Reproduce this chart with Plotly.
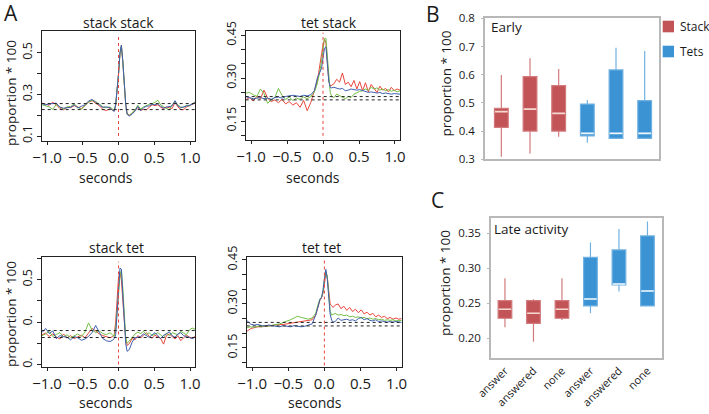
import plotly.graph_objects as go

W, H = 709, 414

# ---------------- data: panel A (time courses) ----------------
T = [-1.07, -1.02, -0.97, -0.92, -0.87, -0.82, -0.77, -0.72, -0.67, -0.62,
     -0.57, -0.52, -0.47, -0.42, -0.37, -0.32, -0.27, -0.22, -0.17, -0.12,
     -0.08, -0.06, -0.04, -0.02, 0.0, 0.02, 0.04, 0.06, 0.08, 0.10,
     0.12, 0.15, 0.19, 0.23, 0.27, 0.31, 0.35, 0.39, 0.43, 0.47,
     0.51, 0.55, 0.59, 0.63, 0.67, 0.71, 0.75, 0.79, 0.83, 0.87,
     0.91, 0.95, 0.99, 1.03, 1.07]

# stack stack
ss_red = [0.258, 0.252, 0.248, 0.262, 0.250, 0.232, 0.226, 0.238, 0.236, 0.246,
          0.240, 0.232, 0.246, 0.262, 0.270, 0.258, 0.246, 0.228, 0.222, 0.232,
          0.226, 0.220, 0.246, 0.305, 0.395, 0.495, 0.532, 0.455, 0.345, 0.255,
          0.208, 0.200, 0.210, 0.224, 0.236, 0.224, 0.228, 0.226, 0.240, 0.250,
          0.246, 0.250, 0.238, 0.232, 0.240, 0.236, 0.232, 0.262, 0.240, 0.228,
          0.226, 0.240, 0.246, 0.250, 0.258]
ss_green = [0.250, 0.246, 0.240, 0.228, 0.252, 0.240, 0.230, 0.240, 0.242, 0.254,
            0.238, 0.228, 0.244, 0.264, 0.272, 0.266, 0.254, 0.240, 0.236, 0.240,
            0.228, 0.224, 0.252, 0.312, 0.398, 0.498, 0.534, 0.458, 0.342, 0.252,
            0.204, 0.198, 0.212, 0.226, 0.248, 0.230, 0.240, 0.248, 0.252, 0.256,
            0.262, 0.272, 0.250, 0.240, 0.232, 0.226, 0.250, 0.266, 0.250, 0.240,
            0.236, 0.248, 0.244, 0.256, 0.264]
ss_blue = [0.256, 0.250, 0.254, 0.256, 0.258, 0.238, 0.234, 0.236, 0.238, 0.250,
           0.235, 0.243, 0.250, 0.268, 0.276, 0.262, 0.250, 0.238, 0.240, 0.236,
           0.222, 0.219, 0.250, 0.310, 0.400, 0.500, 0.537, 0.460, 0.350, 0.255,
           0.205, 0.196, 0.205, 0.220, 0.243, 0.222, 0.236, 0.243, 0.245, 0.252,
           0.250, 0.256, 0.242, 0.236, 0.238, 0.243, 0.245, 0.270, 0.245, 0.236,
           0.240, 0.244, 0.250, 0.252, 0.262]

# tet stack
ts_red = [0.225, 0.232, 0.220, 0.236, 0.228, 0.258, 0.230, 0.218, 0.224, 0.214,
          0.226, 0.210, 0.218, 0.206, 0.214, 0.198, 0.222, 0.186, 0.215, 0.255,
          0.290, 0.320, 0.360, 0.385, 0.415, 0.436, 0.425, 0.345, 0.290, 0.272,
          0.276, 0.280, 0.296, 0.286, 0.318, 0.278, 0.286, 0.270, 0.292, 0.262,
          0.288, 0.256, 0.284, 0.252, 0.278, 0.266, 0.250, 0.272, 0.258, 0.264,
          0.252, 0.268, 0.256, 0.262, 0.258]
ts_green = [0.248, 0.250, 0.242, 0.236, 0.262, 0.246, 0.212, 0.224, 0.232, 0.264,
            0.240, 0.226, 0.234, 0.222, 0.230, 0.226, 0.234, 0.228, 0.236, 0.252,
            0.280, 0.300, 0.330, 0.360, 0.400, 0.438, 0.440, 0.380, 0.290, 0.250,
            0.236, 0.232, 0.244, 0.238, 0.234, 0.228, 0.236, 0.232, 0.244, 0.250,
            0.254, 0.256, 0.262, 0.258, 0.268, 0.262, 0.266, 0.258, 0.262, 0.256,
            0.260, 0.254, 0.258, 0.252, 0.256]
ts_blue = [0.235, 0.232, 0.228, 0.230, 0.232, 0.228, 0.230, 0.226, 0.232, 0.234,
           0.230, 0.236, 0.238, 0.240, 0.238, 0.236, 0.240, 0.238, 0.242, 0.256,
           0.300, 0.312, 0.318, 0.335, 0.370, 0.405, 0.410, 0.360, 0.290, 0.268,
           0.266, 0.268, 0.266, 0.262, 0.264, 0.256, 0.258, 0.262, 0.260, 0.258,
           0.260, 0.256, 0.252, 0.250, 0.252, 0.250, 0.248, 0.250, 0.246, 0.248,
           0.246, 0.244, 0.246, 0.244, 0.244]

# stack tet
st_red = [0.240, 0.248, 0.232, 0.244, 0.230, 0.220, 0.244, 0.226, 0.236, 0.222,
          0.230, 0.238, 0.226, 0.248, 0.270, 0.258, 0.244, 0.236, 0.232, 0.226,
          0.232, 0.240, 0.300, 0.420, 0.510, 0.535, 0.500, 0.400, 0.300, 0.220,
          0.190, 0.198, 0.222, 0.216, 0.236, 0.226, 0.238, 0.250, 0.232, 0.224,
          0.238, 0.228, 0.222, 0.196, 0.236, 0.244, 0.230, 0.220, 0.236, 0.212,
          0.226, 0.238, 0.230, 0.224, 0.232]
st_green = [0.236, 0.244, 0.256, 0.232, 0.242, 0.250, 0.230, 0.240, 0.226, 0.236,
            0.244, 0.232, 0.252, 0.296, 0.262, 0.250, 0.258, 0.246, 0.240, 0.250,
            0.238, 0.232, 0.262, 0.330, 0.430, 0.520, 0.545, 0.460, 0.330, 0.230,
            0.200, 0.210, 0.226, 0.244, 0.252, 0.246, 0.256, 0.242, 0.250, 0.236,
            0.244, 0.250, 0.240, 0.226, 0.248, 0.236, 0.250, 0.244, 0.240, 0.256,
            0.246, 0.240, 0.262, 0.272, 0.266]
st_blue = [0.251, 0.270, 0.246, 0.258, 0.222, 0.236, 0.232, 0.228, 0.216, 0.232,
           0.226, 0.214, 0.220, 0.232, 0.250, 0.284, 0.252, 0.222, 0.212, 0.208,
           0.215, 0.222, 0.240, 0.330, 0.460, 0.555, 0.550, 0.420, 0.310, 0.200,
           0.162, 0.170, 0.205, 0.226, 0.228, 0.232, 0.244, 0.236, 0.228, 0.240,
           0.250, 0.236, 0.222, 0.238, 0.244, 0.254, 0.236, 0.228, 0.244, 0.250,
           0.236, 0.232, 0.226, 0.222, 0.228]

# tet tet
tt_red = [0.207, 0.216, 0.219, 0.222, 0.222, 0.224, 0.226, 0.226, 0.228, 0.230,
          0.230, 0.232, 0.234, 0.236, 0.238, 0.240, 0.240, 0.242, 0.246, 0.262,
          0.300, 0.314, 0.320, 0.336, 0.366, 0.405, 0.390, 0.330, 0.300, 0.294,
          0.288, 0.296, 0.300, 0.284, 0.292, 0.278, 0.288, 0.274, 0.282, 0.270,
          0.280, 0.266, 0.272, 0.262, 0.268, 0.256, 0.262, 0.254, 0.258, 0.250,
          0.254, 0.248, 0.252, 0.248, 0.250]
tt_green = [0.219, 0.222, 0.220, 0.224, 0.222, 0.226, 0.224, 0.228, 0.230, 0.232,
            0.236, 0.240, 0.246, 0.252, 0.258, 0.254, 0.250, 0.248, 0.252, 0.268,
            0.305, 0.318, 0.322, 0.340, 0.380, 0.412, 0.395, 0.330, 0.275, 0.262,
            0.264, 0.268, 0.262, 0.264, 0.260, 0.262, 0.256, 0.258, 0.254, 0.256,
            0.252, 0.254, 0.250, 0.252, 0.248, 0.250, 0.246, 0.248, 0.244, 0.246,
            0.244, 0.246, 0.242, 0.244, 0.243]
tt_blue = [0.243, 0.231, 0.228, 0.230, 0.226, 0.225, 0.228, 0.226, 0.224, 0.222,
           0.226, 0.224, 0.222, 0.226, 0.224, 0.222, 0.224, 0.228, 0.232, 0.262,
           0.305, 0.316, 0.322, 0.345, 0.385, 0.418, 0.385, 0.315, 0.265, 0.245,
           0.238, 0.240, 0.252, 0.244, 0.246, 0.248, 0.244, 0.246, 0.242, 0.250,
           0.254, 0.246, 0.250, 0.244, 0.242, 0.246, 0.240, 0.242, 0.240, 0.238,
           0.240, 0.238, 0.240, 0.238, 0.237]

PANEL_TITLES = ["stack stack", "tet stack", "stack tet", "tet tet"]
SERIES = [(ss_red, ss_green, ss_blue), (ts_red, ts_green, ts_blue),
          (st_red, st_green, st_blue), (tt_red, tt_green, tt_blue)]
BASELINES = [(0.256, 0.227), (0.2355, 0.224), (0.260, 0.227), (0.237, 0.225)]
VLINE_LO = [0.10, 0.098, 0.10, 0.09]
VLINE_HI = [0.58, 0.459, 0.585, 0.45]
X_TICKS = [-1.0, -0.5, 0.0, 0.5, 1.0]
X_TICKTEXT = ["\u22121.0", "\u22120.5", "0.0", "0.5", "1.0"]
Y_TICKS = [[0.1, 0.2, 0.3, 0.4, 0.5],
           [0.10, 0.15, 0.20, 0.25, 0.30, 0.35, 0.40, 0.45],
           [0.1, 0.2, 0.3, 0.4, 0.5, 0.6],
           [0.10, 0.15, 0.20, 0.25, 0.30, 0.35, 0.40, 0.45]]
Y_TICKTEXT = [["0.1", "", "0.3", "", "0.5"],
              ["", "0.15", "", "", "0.30", "", "", "0.45"],
              ["0.", "", "0.", "", "0.5", ""],
              ["", "0.15", "", "", "0.30", "", "", "0.45"]]
Y_RANGES = [[0.076, 0.605], [0.0836, 0.465], [0.088, 0.607], [0.085, 0.46]]
X_RANGE = [-1.075, 1.07]

# ---------------- data: panels B and C (box plots) ----------------
GROUPS = ["Stack", "Stack", "Stack", "Tets", "Tets", "Tets"]
C_LABELS = ["answer", "answered", "none", "answer", "answered", "none"]

early_q1 = [0.413, 0.400, 0.400, 0.383, 0.374, 0.374]
early_med = [0.469, 0.478, 0.463, 0.392, 0.392, 0.392]
early_q3 = [0.481, 0.593, 0.561, 0.496, 0.617, 0.508]
early_lo = [0.309, 0.321, 0.380, 0.359, 0.374, 0.374]
early_hi = [0.599, 0.658, 0.620, 0.510, 0.696, 0.684]

late_q1 = [0.2286, 0.2214, 0.2286, 0.2462, 0.2762, 0.2462]
late_med = [0.2414, 0.2357, 0.2414, 0.2562, 0.2776, 0.2676]
late_q3 = [0.2538, 0.2538, 0.2538, 0.3157, 0.3262, 0.3462]
late_lo = [0.2157, 0.1952, 0.2262, 0.2357, 0.2667, 0.2462]
late_hi = [0.2857, 0.2557, 0.2857, 0.3367, 0.3562, 0.3667]

# ---------------- styling ----------------
FONT = "Open Sans"
LINE_COLORS = ["#e8463c", "#74bf45", "#3f5fae"]
FILL = {"Stack": "#c25356", "Tets": "#3b93d4"}
WHISK = {"Stack": "#d27a7c", "Tets": "#71b2e2"}
MEDC = {"Stack": "#f4d8cf", "Tets": "#eef6fc"}


def dom_x(a, b):
    return [a / W, b / W]


def dom_y(top, bottom):
    return [1 - bottom / H, 1 - top / H]


A_DOMX = [dom_x(41.7, 195), dom_x(245.7, 400), dom_x(41.7, 195), dom_x(246.7, 401.7)]
A_DOMY = [dom_y(31, 141), dom_y(31, 140), dom_y(257, 367), dom_y(257, 367)]

fig = go.Figure()
layout = dict(width=W, height=H, margin=dict(l=0, r=0, t=0, b=0, autoexpand=False),
              autosize=False, paper_bgcolor="white", plot_bgcolor="white", showlegend=False,
              font=dict(family=FONT, color="#1a1a1a"))
annotations = []
shapes = []

for i in range(4):
    n = i + 1
    xa = "x" if n == 1 else f"x{n}"
    ya = "y" if n == 1 else f"y{n}"
    for s, col in zip(SERIES[i], LINE_COLORS):
        fig.add_trace(go.Scatter(x=T, y=s, mode="lines", line=dict(color=col, width=1),
                                 xaxis=xa, yaxis=ya, hoverinfo="skip"))
    for b in BASELINES[i]:
        fig.add_trace(go.Scatter(x=X_RANGE, y=[b, b], mode="lines",
                                 line=dict(color="#222", width=1, dash="dot"),
                                 xaxis=xa, yaxis=ya, hoverinfo="skip"))
    fig.add_trace(go.Scatter(x=[0, 0], y=[VLINE_LO[i], VLINE_HI[i]], mode="lines",
                             line=dict(color="#e8463c", width=1, dash="dot"),
                             xaxis=xa, yaxis=ya, hoverinfo="skip"))
    layout[f"xaxis{'' if n == 1 else n}"] = dict(
        domain=A_DOMX[i], anchor=ya, range=X_RANGE, tickvals=X_TICKS, ticktext=X_TICKTEXT,
        tickangle=0, ticks="outside", ticklen=3, tickcolor="#222", showline=True,
        linecolor="#222", linewidth=1, mirror=True, showgrid=False, zeroline=False,
        automargin=False, tickfont=dict(size=15, family=FONT))
    layout[f"yaxis{'' if n == 1 else n}"] = dict(
        domain=A_DOMY[i], anchor=xa, range=Y_RANGES[i], tickvals=Y_TICKS[i],
        ticktext=Y_TICKTEXT[i], tickangle=-90, ticks="outside", ticklen=4, tickcolor="#222",
        showline=True, linecolor="#222", linewidth=1, mirror=True, showgrid=False,
        zeroline=False, automargin=False, tickfont=dict(size=12.5, family=FONT))

# panel titles, x titles and y titles for A
title_pos = [(118, 22), (328.5, 22), (116.7, 247), (321, 247)]
for i in range(4):
    annotations.append(dict(text=PANEL_TITLES[i], x=title_pos[i][0] / W, y=1 - title_pos[i][1] / H,
                            xref="paper", yref="paper", showarrow=False, xanchor="center",
                            yanchor="middle", font=dict(size=14)))
for (xc, yc) in [(106, 177), (313, 177)]:
    annotations.append(dict(text="seconds", x=xc / W, y=1 - yc / H, xref="paper", yref="paper",
                            showarrow=False, xanchor="center", yanchor="middle",
                            font=dict(size=14)))
for xc in [106, 315]:
    annotations.append(dict(text="seconds", x=xc / W, y=0, xref="paper", yref="paper",
                            showarrow=False, xanchor="center", yanchor="bottom",
                            font=dict(size=14)))
for (xc, yc) in [(11, 93), (11, 314), (445, 83.5), (445, 283)]:
    annotations.append(dict(text="proportion * 100", x=xc / W, y=1 - yc / H, xref="paper",
                            yref="paper", showarrow=False, textangle=-90, xanchor="center",
                            yanchor="middle", font=dict(size=13.5)))
for (lab, xc, yc) in [("A", 11, 13), ("B", 432.5, 14), ("C", 437, 200)]:
    annotations.append(dict(text=lab, x=xc / W, y=1 - yc / H, xref="paper", yref="paper",
                            showarrow=False, xanchor="center", yanchor="middle",
                            font=dict(size=21)))

# ---------------- box panels ----------------
BOX_W = 0.48


def add_boxes(q1, med, q3, lo, hi, xa, ya):
    for k in range(len(q1)):
        g = GROUPS[k]
        fig.add_trace(go.Box(x=[k], q1=[q1[k]], median=[med[k]], q3=[q3[k]],
                             lowerfence=[lo[k]], upperfence=[hi[k]], width=BOX_W,
                             fillcolor=FILL[g], line=dict(color=WHISK[g], width=1.2),
                             whiskerwidth=0, boxpoints=False, xaxis=xa, yaxis=ya,
                             hoverinfo="skip"))
        fig.add_trace(go.Scatter(x=[k - BOX_W / 2 + 0.02, k + BOX_W / 2 - 0.02],
                                 y=[med[k], med[k]], mode="lines",
                                 line=dict(color=MEDC[g], width=1.6), xaxis=xa, yaxis=ya,
                                 hoverinfo="skip"))


add_boxes(early_q1, early_med, early_q3, early_lo, early_hi, "x5", "y5")
add_boxes(late_q1, late_med, late_q3, late_lo, late_hi, "x6", "y6")

GREY = "#b8b8b8"
layout["xaxis5"] = dict(domain=dom_x(485, 659.3), anchor="y5", range=[-0.57, 5.51],
                        showticklabels=False, ticks="", showline=True, linecolor=GREY,
                        linewidth=1.5, mirror=True, showgrid=False, zeroline=False,
                        automargin=False)
layout["yaxis5"] = dict(domain=dom_y(18.3, 159.3), anchor="x5", range=[0.3, 0.8],
                        tickvals=[0.3, 0.4, 0.5, 0.6, 0.7, 0.8],
                        ticktext=["0.3", "0.4", "0.5", "0.6", "0.7", "0.8"],
                        ticks="outside", ticklen=2, tickcolor=GREY, showline=True,
                        linecolor=GREY, linewidth=1.5, mirror=True, showgrid=False,
                        zeroline=False, automargin=False, tickfont=dict(size=11.5),
                        ticklabelstandoff=4)
layout["xaxis6"] = dict(domain=dom_x(491, 662), anchor="y6", range=[-0.49, 5.51],
                        tickvals=list(range(6)), ticktext=C_LABELS, tickangle=-45,
                        ticks="", showline=True, linecolor=GREY, linewidth=1.5, mirror=True,
                        showgrid=False, zeroline=False, automargin=False,
                        tickfont=dict(size=11))
layout["yaxis6"] = dict(domain=dom_y(217.7, 358.3), anchor="x6", range=[0.1714, 0.3723],
                        tickvals=[0.20, 0.25, 0.30, 0.35],
                        ticktext=["0.20", "0.25", "0.30", "0.35"],
                        ticks="outside", ticklen=2, tickcolor=GREY, showline=True,
                        linecolor=GREY, linewidth=1.5, mirror=True, showgrid=False,
                        zeroline=False, automargin=False, tickfont=dict(size=11.5),
                        ticklabelstandoff=4)

annotations.append(dict(text="Early", x=489 / W, y=1 - 27.5 / H, xref="paper", yref="paper",
                        showarrow=False, xanchor="left", yanchor="middle",
                        font=dict(size=13.5)))
annotations.append(dict(text="Late activity", x=491.5 / W, y=1 - 229 / H, xref="paper",
                        yref="paper", showarrow=False, xanchor="left", yanchor="middle",
                        font=dict(size=13.5)))

# legend for B
LEGEND_ITEMS = ["Stack", "Tets"]
for j, g in enumerate(LEGEND_ITEMS):
    yc = 26.5 + 25 * j
    shapes.append(dict(type="rect", xref="paper", yref="paper", x0=662.7 / W, x1=674 / W,
                       y0=1 - (yc + 5.8) / H, y1=1 - (yc - 5.8) / H, fillcolor=FILL[g],
                       line=dict(width=0)))
    annotations.append(dict(text=g, x=678 / W, y=1 - yc / H, xref="paper", yref="paper",
                            showarrow=False, xanchor="left", yanchor="middle",
                            font=dict(size=12)))

layout["annotations"] = annotations
layout["shapes"] = shapes
fig.update_layout(**layout)
fig.write_html("out.html")
